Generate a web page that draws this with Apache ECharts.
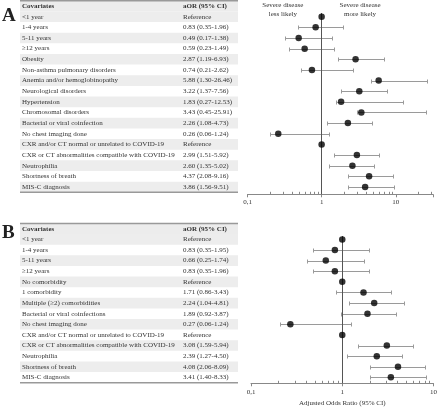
<!DOCTYPE html>
<html><head><meta charset="utf-8">
<script src="https://cdn.jsdelivr.net/npm/echarts@6/dist/echarts.min.js"></script>
<style>html,body{margin:0;padding:0;background:#fff}#c{width:440px;height:408px}</style>
</head><body><div id="c"></div>
<script>
// ---------- DATA ----------
const headers = ['Covariates', 'aOR (95% CI)'];
const tickLabels = ['0,1', '1', '10'];
const effectLabelsA = ['Severe disease\nless likely', 'Severe disease\nmore likely'];
const axisTitleB = 'Adjusted Odds Ratio (95% CI)';

const rowsA = ['<1 year','1-4 years','5-11 years','≥12 years','Obesity','Non-asthma pulmonary disorders','Anemia and/or hemoglobinopathy','Neurological disorders','Hypertension','Chromosomal disorders','Bacterial or viral coinfection','No chest imaging done','CXR and/or CT normal or unrelated to COVID-19','CXR or CT abnormalities compatible with COVID-19','Neutrophilia','Shortness of breath','MIS-C diagnosis'];
const aorTextA = ['Reference','0.83 (0.35-1.96)','0.49 (0.17-1.38)','0.59 (0.23-1.49)','2.87 (1.19-6.93)','0.74 (0.21-2.62)','5.88 (1.30-26.46)','3.22 (1.37-7.56)','1.83 (0.27-12.53)','3.43 (0.45-25.91)','2.26 (1.08-4.73)','0.26 (0.06-1.24)','Reference','2.99 (1.51-5.92)','2.60 (1.35-5.02)','4.37 (2.08-9.16)','3.86 (1.56-9.51)'];
const pointA = [1,0.83,0.49,0.59,2.87,0.74,5.88,3.22,1.83,3.43,2.26,0.26,1,2.99,2.60,4.37,3.86];
// whisker ends as drawn in the picture
const barLowA = [null,0.48,0.32,0.36,1.68,0.53,4.58,1.85,1.56,2.98,1.18,0.20,null,1.48,1.25,2.29,2.30];
const barHighA = [null,1.96,1.38,1.49,6.93,2.62,26.46,7.56,12.53,25.91,4.73,1.24,null,5.92,5.02,9.16,9.51];

const rowsB = ['<1 year','1-4 years','5-11 years','≥12 years','No comorbidity','1 comorbidity','Multiple (≥2) comorbidities','Bacterial or viral coinfections','No chest imaging done','CXR and/or CT normal or unrelated to COVID-19','CXR or CT abnormalities compatible with COVID-19','Neutrophilia','Shortness of breath','MIS-C diagnosis'];
const aorTextB = ['Reference','0.83 (0.35-1.95)','0.66 (0.25-1.74)','0.83 (0.35-1.96)','Reference','1.71 (0.86-3.43)','2.24 (1.04-4.81)','1.89 (0.92-3.87)','0.27 (0.06-1.24)','Reference','3.08 (1.59-5.94)','2.39 (1.27-4.50)','4.08 (2.06-8.09)','3.41 (1.40-8.33)'];
const pointB = [1,0.83,0.66,0.83,1,1.71,2.24,1.89,0.27,1,3.08,2.39,4.08,3.41];
const barLowB = [null,0.48,0.41,0.48,null,0.85,1.20,0.97,0.21,null,1.49,1.12,2.02,2.01];
const barHighB = [null,1.95,1.74,1.96,null,3.43,4.81,3.87,1.24,null,5.94,4.50,8.09,8.33];

const minorTicksA = [0.2,0.3,0.4,0.5,0.6,0.7,0.8,0.9,2,3,4,5,6,7,8,9,20,30];
const minorTicksB = [0.2,0.3,0.4,0.5,0.6,0.7,0.8,0.9,2,3,4,5,6,7,8,9];

// ---------- STYLE / LAYOUT ----------
const FONT = '"Liberation Serif", "DejaVu Serif", serif';
const FS = 7;
const TXT = '#333';
const yRangeA = [-0.35, 16.69];
const yRangeB = [-0.32, 13.56];

const chart = echarts.init(document.getElementById('c'), null, {renderer: 'canvas'});

function labelFmt(v) {
  const e = Math.log10(v);
  const r = Math.round(e);
  if (Math.abs(e - r) > 1e-6) return '';
  return tickLabels[r + 1] !== undefined ? tickLabels[r + 1] : '';
}

function barData(lo, hi) {
  const d = [];
  lo.forEach((l, i) => { if (l != null) d.push([l, hi[i], i]); });
  return d;
}
function renderBar(params, api) {
  const a = api.coord([api.value(0), api.value(2)]);
  const b = api.coord([api.value(1), api.value(2)]);
  const y = Math.round(a[1]) + 0.5;
  const x1 = Math.round(a[0]) + 0.5, x2 = Math.round(b[0]) + 0.5;
  const c = 2;
  const style = {stroke: '#9a9a9a', lineWidth: 1, fill: null};
  return {type: 'group', children: [
    {type: 'line', shape: {x1: x1, y1: y, x2: x2, y2: y}, style: style},
    {type: 'line', shape: {x1: x1, y1: y - c, x2: x1, y2: y + c}, style: style},
    {type: 'line', shape: {x1: x2, y1: y - c, x2: x2, y2: y + c}, style: style}
  ]};
}
function renderMinor(params, api) {
  const p = api.coord([api.value(0), api.value(1)]);
  const x = Math.round(p[0]) + 0.5;
  return {type: 'line', shape: {x1: x, y1: p[1], x2: x, y2: p[1] - 2.5},
    style: {stroke: '#888', lineWidth: 1}};
}

function xAxisCfg(grid, max, labelMargin, name) {
  return {
    type: 'log', logBase: 10, gridIndex: grid, min: 0.1, max: max, position: 'bottom',
    axisLine: {onZero: false, lineStyle: {color: '#888', width: 1}},
    axisTick: {show: true, length: 3, inside: false, lineStyle: {color: '#888'}},
    splitLine: {show: false},
    axisLabel: {formatter: labelFmt, fontFamily: FONT, fontSize: FS, color: TXT, margin: labelMargin,
      showMinLabel: true, showMaxLabel: true, hideOverlap: false},
    name: name || '', nameLocation: 'middle', nameGap: 16,
    nameTextStyle: {fontFamily: FONT, fontSize: FS, color: TXT}
  };
}
function yAxisCfg(grid, range) {
  return {type: 'value', gridIndex: grid, inverse: true, min: range[0], max: range[1], show: false};
}

const option = {
  animation: false,
  grid: [
    {left: 247.5, width: 185.3, top: 13.0, height: 181.3, containLabel: false},
    {left: 251, width: 184.6, top: 236.0, height: 147.3, containLabel: false}
  ],
  xAxis: [xAxisCfg(0, 31.6, 4), xAxisCfg(1, 10, 5, axisTitleB)],
  yAxis: [yAxisCfg(0, yRangeA), yAxisCfg(1, yRangeB)],
  series: [
    {type: 'custom', xAxisIndex: 0, yAxisIndex: 0, renderItem: renderBar, encode: {x: [0, 1], y: 2},
      data: barData(barLowA, barHighA), silent: true, z: 2, clip: false},
    {type: 'scatter', xAxisIndex: 0, yAxisIndex: 0, symbol: 'circle', symbolSize: 6.5,
      itemStyle: {color: '#000'}, data: pointA.map((v, i) => [v, i]), z: 5,
      markLine: {silent: true, symbol: ['none', 'none'], label: {show: false},
        lineStyle: {color: '#555', width: 1, type: 'solid'}, data: [{xAxis: 1}]}},
    {type: 'custom', xAxisIndex: 0, yAxisIndex: 0, renderItem: renderMinor, encode: {x: 0, y: 1},
      data: minorTicksA.map(v => [v, yRangeA[1]]), silent: true, clip: false},

    {type: 'custom', xAxisIndex: 1, yAxisIndex: 1, renderItem: renderBar, encode: {x: [0, 1], y: 2},
      data: barData(barLowB, barHighB), silent: true, z: 2, clip: false},
    {type: 'scatter', xAxisIndex: 1, yAxisIndex: 1, symbol: 'circle', symbolSize: 6.5,
      itemStyle: {color: '#000'}, data: pointB.map((v, i) => [v, i]), z: 5,
      markLine: {silent: true, symbol: ['none', 'none'], label: {show: false},
        lineStyle: {color: '#555', width: 1, type: 'solid'}, data: [{xAxis: 1}]}},
    {type: 'custom', xAxisIndex: 1, yAxisIndex: 1, renderItem: renderMinor, encode: {x: 0, y: 1},
      data: minorTicksB.map(v => [v, yRangeB[1]]), silent: true, clip: false}
  ]
};
chart.setOption(option);

// ---------- TABLES (rows aligned through the chart's own y scale) ----------
const TL = 20, TR = 238, C1 = 22, C2 = 183;
function tableGraphics(gridIdx, rows, aorText, letter, letterY) {
  const rowY = i => chart.convertToPixel({xAxisIndex: gridIdx, yAxisIndex: gridIdx}, [1, i])[1];
  const h = rowY(1) - rowY(0);
  const g = [];
  const headY = rowY(-1);
  g.push({type: 'rect', shape: {x: TL, y: headY - h / 2, width: TR - TL, height: h}, style: {fill: '#ececec'}, z: 1});
  rows.forEach((r, i) => {
    if (i % 2 === 0) g.push({type: 'rect', shape: {x: TL, y: rowY(i) - h / 2, width: TR - TL, height: h}, style: {fill: '#ededed'}, z: 1});
  });
  g.push({type: 'line', shape: {x1: TL, y1: headY - h / 2, x2: TR, y2: headY - h / 2}, style: {stroke: '#999', lineWidth: 1.5}, z: 3});
  const last = rowY(rows.length - 1) + h / 2;
  g.push({type: 'line', shape: {x1: TL, y1: last, x2: TR, y2: last}, style: {stroke: '#999', lineWidth: 1.5}, z: 3});
  g.push({type: 'text', x: C1, y: headY, style: {text: headers[0], fontFamily: FONT, fontSize: FS, fontWeight: 'bold', fill: TXT, verticalAlign: 'middle'}, z: 4});
  g.push({type: 'text', x: C2, y: headY, style: {text: headers[1], fontFamily: FONT, fontSize: FS, fontWeight: 'bold', fill: TXT, verticalAlign: 'middle'}, z: 4});
  rows.forEach((r, i) => {
    g.push({type: 'text', x: C1, y: rowY(i), style: {text: r, fontFamily: FONT, fontSize: FS, fill: TXT, verticalAlign: 'middle'}, z: 4});
    g.push({type: 'text', x: C2, y: rowY(i), style: {text: aorText[i], fontFamily: FONT, fontSize: FS, fill: TXT, verticalAlign: 'middle'}, z: 4});
  });
  g.push({type: 'text', x: 2, y: letterY, style: {text: letter, fontFamily: FONT, fontSize: 19, fontWeight: 'bold', fill: '#222', verticalAlign: 'middle'}, z: 4});
  return g;
}
const gfx = [].concat(
  tableGraphics(0, rowsA, aorTextA, 'A', 16.5),
  tableGraphics(1, rowsB, aorTextB, 'B', 233.5)
);
const lx = chart.convertToPixel({xAxisIndex: 0, yAxisIndex: 0}, [0.30, 0])[0];
const rx = chart.convertToPixel({xAxisIndex: 0, yAxisIndex: 0}, [3.3, 0])[0];
[lx, rx].forEach((x, k) => {
  gfx.push({type: 'text', x: x, y: 9.5, style: {text: effectLabelsA[k], fontFamily: FONT, fontSize: FS, lineHeight: 9,
    fill: TXT, align: 'center', verticalAlign: 'middle'}, z: 4});
});
chart.setOption({graphic: gfx});
</script>
</body></html>
